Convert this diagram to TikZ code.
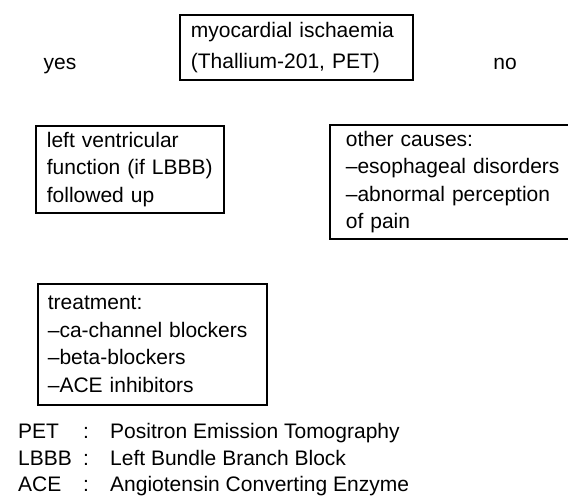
\documentclass[tikz,border=0pt]{standalone}
\usepackage{fontspec}
\setmainfont{Liberation Sans}
\begin{document}
\begin{tikzpicture}[x=1pt,y=-1pt,
  txt/.style={font=\fontsize{21}{27.5}\selectfont},
  box/.style={draw, line width=1.7pt, align=left, anchor=north west, inner ysep=0pt, inner xsep=11pt, txt},
  leg/.style={anchor=base west, inner sep=0pt, txt}]
\useasboundingbox (0,0) rectangle (568,502);
\clip (0,0) rectangle (568,502);
\node[txt, anchor=base] (yes) at (60,70) {yes};
\node[txt, anchor=base] (no) at (505,70) {no};
\node[box, text width=211pt, minimum height=65pt, font=\fontsize{21}{31}\selectfont] (isch) at (179,14) {myocardial ischaemia\\(Thallium-201, PET)};
\node[box, text width=166pt, minimum height=87pt] (lv) at (35,125) {left ventricular\\function (if LBBB)\\followed up};
\node[box, text width=240pt, inner xsep=16pt, minimum height=114pt] (other) at (329,124) {other causes:\\--esophageal disorders\\--abnormal perception\\of pain};
\node[box, text width=209pt, inner xsep=10pt, minimum height=121pt] (treat) at (37,283) {treatment:\\--ca-channel blockers\\--beta-blockers\\--ACE inhibitors};
\node[leg] (a1) at (18,439) {PET};
\node[leg] (c1) at (83,439) {:};
\node[leg] (d1) at (110,439) {Positron Emission Tomography};
\node[leg] (a2) at (18,466) {LBBB};
\node[leg] (c2) at (83,466) {:};
\node[leg] (d2) at (110,466) {Left Bundle Branch Block};
\node[leg] (a3) at (18,492) {ACE};
\node[leg] (c3) at (83,492) {:};
\node[leg] (d3) at (110,492) {Angiotensin Converting Enzyme};
\end{tikzpicture}
\end{document}
